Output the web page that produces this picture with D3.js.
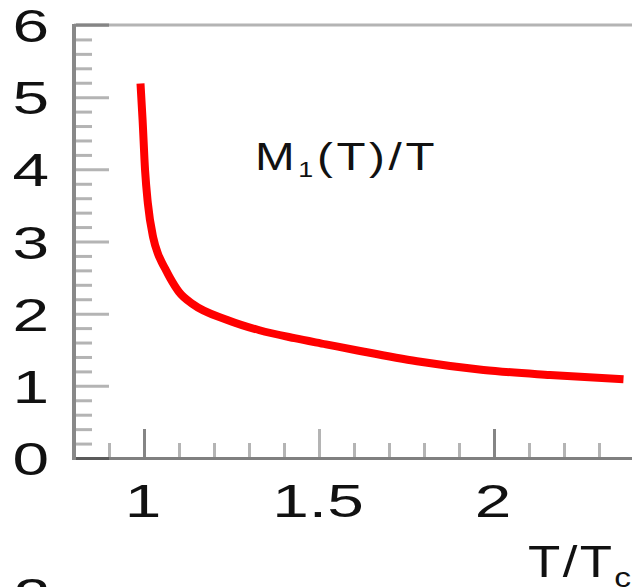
<!DOCTYPE html>
<html>
<head>
<meta charset="utf-8">
<script src="https://cdn.jsdelivr.net/npm/d3@7"></script>
<style>
  body { margin: 0; background: #fff; }
  svg { display: block; }
  text { font-family: "Liberation Sans", Arial, sans-serif; fill: #111; }
</style>
</head>
<body>
<svg id="chart" width="632" height="587"></svg>
<script>
// values
const tOverTc = [0.99, 0.996, 1.003, 1.011, 1.026, 1.04, 1.05, 1.063, 1.075, 1.1, 1.14, 1.24, 1.33, 1.43, 1.52, 1.61, 1.78, 1.97, 2.16, 2.37];
const m1OverT = [5.19, 4.68, 3.99, 3.53, 3.06, 2.83, 2.72, 2.6, 2.49, 2.3, 2.13, 1.91, 1.77, 1.66, 1.575, 1.49, 1.34, 1.22, 1.15, 1.09];
const xTickLabels = [1, 1.5, 2];
const yTickLabels = [0, 1, 2, 3, 4, 5, 6];

const svg = d3.select("#chart");

const x = d3.scaleLinear().domain([0.8, 2.4]).range([74, 634]);
const y = d3.scaleLinear().domain([0, 6]).range([458, 25]);

const lightGrey = "#b4b4b4";
const midGrey = "#858585";

//top frame line
svg.append("line")
  .attr("x1", 74).attr("x2", 632)
  .attr("y1", y(6)).attr("y2", y(6))
  .attr("stroke", lightGrey).attr("stroke-width", 3);

//y minor ticks (pointing into the plot)
const yMinor = d3.range(0, 6.001, 0.2).filter((v) => Math.abs(v - Math.round(v)) > 0.01);
svg.append("g")
  .attr("transform", "translate(76,0)")
  .call(d3.axisLeft(y).tickValues(yMinor).tickSize(-16).tickFormat(""))
  .call((g) => g.select(".domain").remove())
  .call((g) => g.selectAll("line").attr("stroke", lightGrey).attr("stroke-width", 3));

//y major ticks
svg.append("g")
  .attr("transform", "translate(76,0)")
  .call(d3.axisLeft(y).tickValues(yTickLabels).tickSize(-33).tickFormat(""))
  .call((g) => g.select(".domain").remove())
  .call((g) => g.selectAll("line").attr("stroke", lightGrey).attr("stroke-width", 3));

//darker spot where the major tick at 6 meets the frame
svg.append("line")
  .attr("x1", 76).attr("x2", 109)
  .attr("y1", y(6)).attr("y2", y(6))
  .attr("stroke", midGrey).attr("stroke-width", 3);

//x minor ticks
const xMinor = d3.range(0.9, 2.4, 0.1).filter((v) => Math.abs(v * 2 - Math.round(v * 2)) > 0.01);
svg.append("g")
  .attr("transform", "translate(0,458)")
  .call(d3.axisBottom(x).tickValues(xMinor).tickSize(-15).tickFormat(""))
  .call((g) => g.select(".domain").remove())
  .call((g) => g.selectAll("line").attr("stroke", lightGrey).attr("stroke-width", 3));

//x major ticks, whole numbers darker
svg.append("g")
  .attr("transform", "translate(0,458)")
  .call(d3.axisBottom(x).tickValues(xTickLabels).tickSize(-29).tickFormat(""))
  .call((g) => g.select(".domain").remove())
  .call((g) => g.selectAll("line")
    .attr("stroke", (d) => (Number.isInteger(d) ? midGrey : lightGrey))
    .attr("stroke-width", 3));

//axis lines
svg.append("line")
  .attr("x1", 74).attr("x2", 632)
  .attr("y1", 458.5).attr("y2", 458.5)
  .attr("stroke", "#808080").attr("stroke-width", 3);
svg.append("line")
  .attr("x1", 72).attr("x2", 109)
  .attr("y1", 458.5).attr("y2", 458.5)
  .attr("stroke", "#5a5a5a").attr("stroke-width", 3);
svg.append("line")
  .attr("x1", 74).attr("x2", 74)
  .attr("y1", 24).attr("y2", 460)
  .attr("stroke", "#888").attr("stroke-width", 4);

//tick labels (the picture has wide, stretched glyphs)
svg.append("g").selectAll("text")
  .data(yTickLabels).enter().append("text")
  .attr("transform", (d) => `translate(49,${y(d) + 17}) scale(1.4,1)`)
  .attr("text-anchor", "end")
  .attr("font-size", 47)
  .text((d) => d);

svg.append("g").selectAll("text")
  .data(xTickLabels).enter().append("text")
  .attr("transform", (d) => `translate(${x(d) - 1},517) scale(1.4,1)`)
  .attr("text-anchor", "middle")
  .attr("font-size", 47)
  .text((d) => d);

//digit of the panel below, cut by the frame
svg.append("text")
  .attr("transform", "translate(32,611) scale(1.4,1)")
  .attr("text-anchor", "middle")
  .attr("font-size", 47)
  .text("2");

//curve
const line = d3.line()
  .x((d, i) => x(tOverTc[i]))
  .y((d) => y(d))
  .curve(d3.curveMonotoneX);

svg.append("path")
  .datum(m1OverT)
  .attr("d", line)
  .attr("fill", "none")
  .attr("stroke", "#ff0000")
  .attr("stroke-width", 8)
  .attr("stroke-linecap", "butt");

//curve name
const title = svg.append("text")
  .attr("transform", "translate(255,170) scale(1.22,1)")
  .attr("font-size", 39)
  .attr("letter-spacing", 3);
title.append("tspan").text("M");
title.append("tspan").attr("font-size", 22).attr("dy", 7).text("1");
title.append("tspan").attr("dy", -7).text("(T)/T");

//axis title
const xTitle = svg.append("text")
  .attr("transform", "translate(528,577) scale(1.2,1)")
  .attr("font-size", 44)
  .attr("letter-spacing", 2);
xTitle.append("tspan").text("T/T");
xTitle.append("tspan").attr("font-size", 28).attr("dy", 10).text("c");
</script>
</body>
</html>
